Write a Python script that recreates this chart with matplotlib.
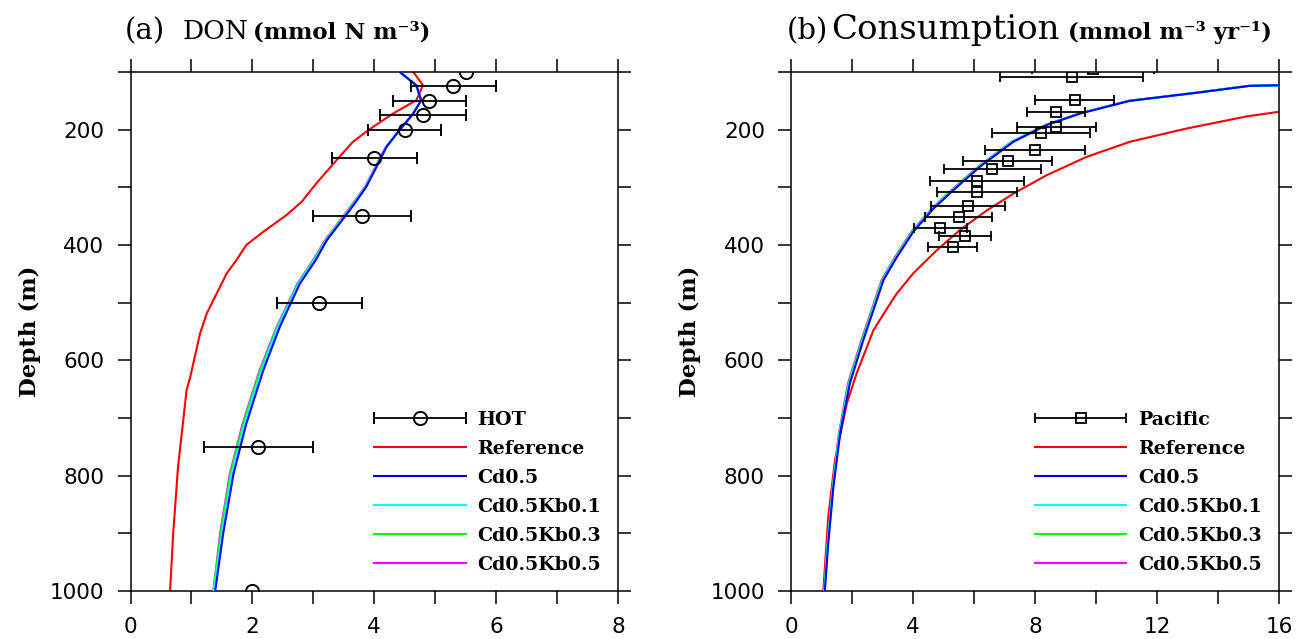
import numpy as np
import matplotlib
matplotlib.use("Agg")
import matplotlib.pyplot as plt
from matplotlib.container import ErrorbarContainer
from matplotlib.legend_handler import HandlerErrorbar

# ---- panel (a): DON ----
hot_depth = [100, 125, 150, 175, 200, 250, 350, 500, 750, 1000]
hot_val = [5.5, 5.3, 4.9, 4.8, 4.5, 4.0, 3.8, 3.1, 2.1, 2.0]
hot_err = [np.nan, 0.7, 0.6, 0.7, 0.6, 0.7, 0.8, 0.7, 0.9, np.nan]

ref_a_depth = [100, 123, 149, 172, 201, 221, 253, 293, 325, 348, 377, 400, 426,
               449, 519, 554, 629, 652, 785, 901, 1000]
ref_a = [4.64, 4.80, 4.69, 4.31, 3.90, 3.65, 3.38, 3.05, 2.81, 2.56, 2.18, 1.90,
         1.74, 1.58, 1.25, 1.14, 0.98, 0.92, 0.78, 0.70, 0.65]

cd_a_depth = [100, 123, 149, 172, 204, 230, 264, 299, 328, 363, 392, 426, 467,
              542, 617, 710, 797, 901, 1000]
cd05_a = [4.42, 4.69, 4.77, 4.64, 4.39, 4.20, 4.04, 3.87, 3.68, 3.43, 3.22, 3.04,
          2.78, 2.45, 2.18, 1.90, 1.69, 1.52, 1.39]
kb01_a = [4.42, 4.69, 4.77, 4.64, 4.39, 4.20, 4.03, 3.86, 3.67, 3.42, 3.21, 3.02,
          2.76, 2.42, 2.15, 1.87, 1.66, 1.50, 1.37]
kb03_a = [4.42, 4.69, 4.77, 4.64, 4.39, 4.20, 4.03, 3.86, 3.66, 3.41, 3.20, 3.01,
          2.75, 2.41, 2.13, 1.85, 1.64, 1.48, 1.36]
kb05_a = [4.42, 4.69, 4.77, 4.64, 4.39, 4.19, 4.02, 3.85, 3.65, 3.40, 3.19, 3.00,
          2.74, 2.40, 2.12, 1.84, 1.63, 1.47, 1.36]

# ---- panel (b): consumption ----
pac_depth = [95, 109, 149, 169, 196, 206, 235, 255, 269, 289, 308, 332, 351, 371, 385, 404]
pac_val = [9.9, 9.2, 9.3, 8.7, 8.7, 8.2, 8.0, 7.1, 6.6, 6.1, 6.1, 5.8, 5.5, 4.9, 5.7, 5.3]
pac_err = [2.0, 2.35, 1.3, 0.95, 1.3, 1.6, 1.65, 1.45, 1.6, 1.55, 1.3, 1.2, 1.1, 0.87, 0.85, 0.8]

ref_b_depth = [169, 177, 198, 221, 247, 279, 311, 340, 374, 409, 449, 484, 510,
               548, 623, 675, 774, 872, 1000]
ref_b = [16.0, 14.94, 12.97, 11.11, 9.70, 8.38, 7.29, 6.42, 5.54, 4.78, 4.01, 3.47,
         3.15, 2.70, 2.15, 1.83, 1.44, 1.22, 1.06]

cd_b_depth = [123, 124, 136, 150, 172, 192, 221, 264, 305, 337, 377, 421, 461, 510,
              565, 640, 727, 820, 918, 1000]
cd05_b = [16.0, 15.05, 13.30, 11.11, 9.48, 8.38, 7.29, 6.20, 5.32, 4.67, 4.01, 3.47,
          3.03, 2.72, 2.37, 1.93, 1.61, 1.39, 1.22, 1.11]
kb01_b = [16.0, 15.03, 13.28, 11.09, 9.46, 8.36, 7.27, 6.18, 5.30, 4.65, 3.99, 3.45,
          3.01, 2.70, 2.35, 1.91, 1.59, 1.38, 1.21, 1.10]
kb03_b = [16.0, 15.02, 13.27, 11.08, 9.45, 8.35, 7.25, 6.16, 5.28, 4.63, 3.97, 3.43,
          2.99, 2.68, 2.33, 1.89, 1.58, 1.37, 1.20, 1.09]
kb05_b = [16.0, 15.00, 13.25, 11.06, 9.43, 8.33, 7.23, 6.14, 5.26, 4.61, 3.95, 3.41,
          2.97, 2.66, 2.31, 1.87, 1.57, 1.36, 1.19, 1.09]

labels = ["Reference", "Cd0.5", "Cd0.5Kb0.1", "Cd0.5Kb0.3", "Cd0.5Kb0.5"]
colors = ["#ff0000", "#0000ff", "#00ffff", "#00ff00", "#ff00ff"]

serif = "DejaVu Serif"
sans = "DejaVu Sans"

W, H = 1296, 639
fig = plt.figure(figsize=(W / 100, H / 100), dpi=100)
ax_a = fig.add_axes([130.5 / W, 1 - 591 / H, 487.5 / W, 519 / H])
ax_b = fig.add_axes([791 / W, 1 - 591 / H, 488 / W, 519 / H])


def style_axis(ax, xmax, xstep, xlabstep):
    ax.set_xlim(0, xmax)
    ax.set_ylim(1000, 100)
    xt = np.arange(0, xmax + 0.01, xstep)
    ax.set_xticks(xt)
    ax.set_xticklabels([f"{v:g}" if abs(v / xlabstep - round(v / xlabstep)) < 1e-6 else ""
                        for v in xt])
    yt = np.arange(100, 1001, 100)
    ax.set_yticks(yt)
    ax.set_yticklabels([str(v) if v % 200 == 0 else "" for v in yt])
    ax.tick_params(direction="out", length=9.3, width=1.1, top=True, right=True,
                   labelsize=15.5, pad=9.5)
    for lab in ax.get_xticklabels() + ax.get_yticklabels():
        lab.set_fontfamily(sans)
    for sp in ax.spines.values():
        sp.set_linewidth(1.1)
    ax.set_ylabel("Depth (m)", fontfamily=serif, fontweight="bold", fontsize=16.5)
    ax.yaxis.set_label_coords(-0.1836, 0.5)


def legend(ax, obs, lines, obs_label, top):
    ax.legend([obs] + lines, [obs_label] + labels, loc="upper left",
              bbox_to_anchor=(0.50, top), frameon=False, borderpad=0, borderaxespad=0,
              handlelength=4.8, handletextpad=0.63, labelspacing=0.58,
              prop={"family": serif, "weight": "bold", "size": 13.7},
              handler_map={ErrorbarContainer: HandlerErrorbar(xerr_size=2.4)})


# panel a
lines_a = []
for vals, c, z in zip([ref_a, cd05_a, kb01_a, kb03_a, kb05_a], colors, [2, 6, 5, 4, 3]):
    d = ref_a_depth if vals is ref_a else cd_a_depth
    ln, = ax_a.plot(vals, d, color=c, lw=1.5, zorder=z)
    lines_a.append(ln)
obs_a = ax_a.errorbar(hot_val, hot_depth, xerr=hot_err, fmt="o", ms=9.5, mfc="none",
                      mec="black", mew=1.4, ecolor="black", elinewidth=1.3,
                      capsize=4.3, capthick=1.3, zorder=7)
style_axis(ax_a, 8, 1, 2)
legend(ax_a, obs_a, lines_a, "HOT", 0.3477)

# panel b
lines_b = []
for vals, c, z in zip([ref_b, cd05_b, kb01_b, kb03_b, kb05_b], colors, [2, 6, 5, 4, 3]):
    d = ref_b_depth if vals is ref_b else cd_b_depth
    ln, = ax_b.plot(vals, d, color=c, lw=1.5, zorder=z)
    lines_b.append(ln)
obs_b = ax_b.errorbar(pac_val, pac_depth, xerr=pac_err, fmt="s", ms=6.5, mfc="none",
                      mec="black", mew=1.3, ecolor="black", elinewidth=1.3,
                      capsize=3.6, capthick=1.3, zorder=7)
style_axis(ax_b, 16, 2, 4)
legend(ax_b, obs_b, lines_b, "Pacific", 0.3477)

# titles
ty = 1 - 39 / H
fig.text(125 / W, ty, "(a)", fontfamily=serif, fontsize=21, va="baseline", ha="left")
fig.text(183 / W, ty, "DON", fontfamily=serif, fontsize=19, va="baseline", ha="left")
fig.text(253 / W, ty, "(mmol N m\u207b\u00b3)", fontfamily=serif,
         fontweight="bold", fontsize=16.5, va="baseline", ha="left")
fig.text(787 / W, ty, "(b)", fontfamily=serif, fontsize=21, va="baseline", ha="left")
fig.text(831 / W, ty, "Consumption", fontfamily=serif, fontsize=24.5, va="baseline", ha="left")
fig.text(1068 / W, ty, "(mmol m\u207b\u00b3 yr\u207b\u00b9)", fontfamily=serif,
         fontweight="bold", fontsize=16.5, va="baseline", ha="left")

fig.savefig("out.png", dpi=100)
